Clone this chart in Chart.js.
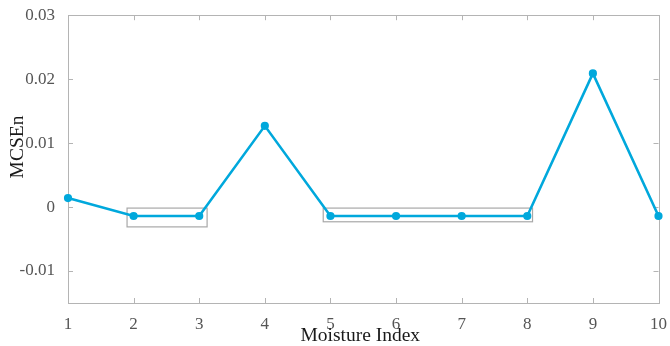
<!DOCTYPE html>
<html>
<head>
<meta charset="utf-8">
<script src="https://cdn.jsdelivr.net/npm/chart.js@4.4.1/dist/chart.umd.min.js"></script>
<style>
  html, body { margin: 0; padding: 0; background: #fff; }
  canvas { display: block; }
</style>
</head>
<body>
<canvas id="c" width="670" height="346"></canvas>
<script>
// Moisture index categories and MCSEn values
const moistureIndex = [1, 2, 3, 4, 5, 6, 7, 8, 9, 10];
const mcsen = [0.0014, -0.0014, -0.0014, 0.0127, -0.0014, -0.0014, -0.0014, -0.0014, 0.0209, -0.0014];

// Tick values on both axes
const xTicks = [1, 2, 3, 4, 5, 6, 7, 8, 9, 10];
const yTicks = [-0.01, 0, 0.01, 0.02, 0.03];

// Highlight boxes around the flat segments: x range and y range of each box
const boxX1 = [1.9, 4.89];
const boxX2 = [3.12, 8.08];
const boxY1 = [-0.0031, -0.0023];
const boxY2 = [-0.00016, -0.00016];

const AXIS_GRAY = '#b4b4b4';
const LINE_BLUE = '#00a8dc';
const SERIF = '"Liberation Serif", "Times New Roman", serif';

// Frame, inward ticks, highlight boxes and axis titles
const decor = {
  id: 'decor',
  beforeDatasetsDraw(chart) {
    const { ctx, chartArea: a, scales: { x, y } } = chart;
    ctx.save();
    ctx.strokeStyle = AXIS_GRAY;
    ctx.lineWidth = 1;
    ctx.strokeRect(Math.round(a.left) + 0.5, Math.round(a.top) + 0.5,
                   Math.round(a.right - a.left), Math.round(a.bottom - a.top));
    const tl = 5;
    ctx.beginPath();
    xTicks.forEach(v => {
      const px = Math.round(x.getPixelForValue(v)) + 0.5;
      ctx.moveTo(px, a.bottom); ctx.lineTo(px, a.bottom - tl);
      ctx.moveTo(px, a.top); ctx.lineTo(px, a.top + tl);
    });
    yTicks.forEach(v => {
      const py = Math.round(y.getPixelForValue(v)) + 0.5;
      ctx.moveTo(a.left, py); ctx.lineTo(a.left + tl, py);
      ctx.moveTo(a.right, py); ctx.lineTo(a.right - tl, py);
    });
    ctx.stroke();
    // highlight boxes
    ctx.strokeStyle = '#a8a8a8';
    ctx.lineWidth = 1.2;
    for (let i = 0; i < boxX1.length; i++) {
      const l = x.getPixelForValue(boxX1[i]);
      const r = x.getPixelForValue(boxX2[i]);
      const b = y.getPixelForValue(boxY1[i]);
      const t = y.getPixelForValue(boxY2[i]);
      ctx.strokeRect(l, t, r - l, b - t);
    }
    ctx.restore();
  },
  afterDraw(chart) {
    const { ctx, chartArea: a } = chart;
    ctx.save();
    ctx.fillStyle = '#1a1a1a';
    ctx.font = '19.5px ' + SERIF;
    ctx.textAlign = 'center';
    ctx.textBaseline = 'middle';
    ctx.fillText('Moisture Index', (a.left + a.right) / 2 - 3, 336);
    ctx.translate(18, 147);
    ctx.rotate(-Math.PI / 2);
    ctx.fillText('MCSEn', 0, 0);
    ctx.restore();
  }
};

new Chart(document.getElementById('c'), {
  type: 'line',
  data: {
    labels: moistureIndex,
    datasets: [{
      data: moistureIndex.map((m, i) => ({ x: m, y: mcsen[i] })),
      borderColor: LINE_BLUE,
      backgroundColor: LINE_BLUE,
      borderWidth: 2.6,
      pointRadius: 2.8,
      pointHoverRadius: 2.8,
      pointStyle: 'circle',
      tension: 0,
      clip: false
    }]
  },
  options: {
    responsive: false,
    animation: false,
    devicePixelRatio: 1,
    layout: { padding: { top: 15, right: 10, left: 0, bottom: 0 } },
    plugins: { legend: { display: false }, tooltip: { enabled: false } },
    scales: {
      x: {
        type: 'linear',
        min: 1, max: 10,
        afterBuildTicks: s => { s.ticks = xTicks.map(v => ({ value: v })); },
        afterFit: s => { s.height = 43; },
        grid: { display: false },
        border: { display: false },
        ticks: {
          color: '#555',
          font: { family: SERIF, size: 17 },
          padding: 3,
          maxRotation: 0,
          callback: v => String(v)
        }
      },
      y: {
        type: 'linear',
        min: -0.015, max: 0.03,
        afterBuildTicks: s => { s.ticks = yTicks.map(v => ({ value: v })); },
        afterFit: s => { s.width = 68; },
        grid: { display: false },
        border: { display: false },
        ticks: {
          color: '#555',
          font: { family: SERIF, size: 17 },
          padding: 5,
          callback: v => (Math.abs(v) < 1e-9 ? '0' : String(Math.round(v * 100) / 100))
        }
      }
    }
  },
  plugins: [decor]
});
</script>
</body>
</html>
